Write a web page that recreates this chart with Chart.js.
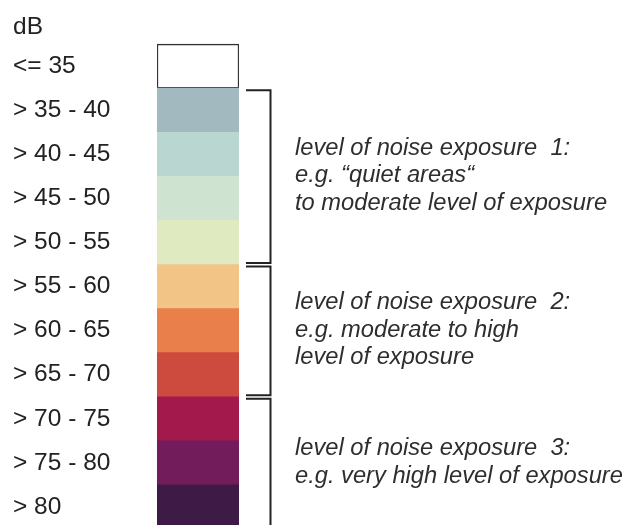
<!DOCTYPE html>
<html>
<head>
<meta charset="utf-8">
<script src="https://cdn.jsdelivr.net/npm/chart.js@4"></script>
<style>
  html, body { margin: 0; padding: 0; background: #fff; overflow: hidden; }
</style>
</head>
<body>
<canvas id="myChart" width="626" height="529"></canvas>
<script>
// legend rows (dB classes)
const categories = ["dB", "<= 35", "> 35 - 40", "> 40 - 45", "> 45 - 50", "> 50 - 55",
                    "> 55 - 60", "> 60 - 65", "> 65 - 70", "> 70 - 75", "> 75 - 80", "> 80"];
const fill = [null, 1, 1, 1, 1, 1, 1, 1, 1, 1, 1, 1];
const colors = ["#ffffff", "#ffffff", "#a1b9bf", "#b9d6d0", "#cfe4d0", "#e0eac1",
                "#f2c586", "#e97f4b", "#cd4a3f", "#a3194b", "#721c5c", "#3e1a47"];

// brackets: first and last row of each group + its text
const groupFrom = [2, 6, 9];
const groupTo = [5, 8, 11];
const groupText = [
    ["level of noise exposure  1:", "e.g. \u201cquiet areas\u201c", "to moderate level of exposure"],
    ["level of noise exposure  2:", "e.g. moderate to high", "level of exposure"],
    ["level of noise exposure  3:", "e.g. very high level of exposure"]
];

const labelFont = "'Liberation Sans', Arial, sans-serif";

const bracketPlugin = {
    id: "brackets",
    afterDraw(chart) {
        const c = chart.ctx;
        const y = chart.scales.y;
        const right = chart.chartArea.right;
        const half = (y.getPixelForValue(1) - y.getPixelForValue(0)) / 2;
        c.save();

        // unit header sits a bit lower than its row centre
        c.fillStyle = "#222";
        c.font = "24.5px " + labelFont;
        c.textBaseline = "middle";
        c.textAlign = "left";
        c.fillText(categories[0], chart.chartArea.left - 144, y.getPixelForValue(0) + 5);

        for (let i = 0; i < groupFrom.length; i++) {
            const top = y.getPixelForValue(groupFrom[i]) - half;
            const bottom = y.getPixelForValue(groupTo[i]) + half;
            c.strokeStyle = "#222";
            c.lineWidth = 2;
            c.beginPath();
            c.moveTo(right + 7, top + 2);
            c.lineTo(right + 31.5, top + 2);
            c.lineTo(right + 31.5, bottom - 1.5);
            c.lineTo(right + 7, bottom - 1.5);
            c.stroke();

            // text block centred on the group
            const lines = groupText[i];
            const mid = (top + bottom) / 2;
            c.fillStyle = "#2e2e2e";
            c.font = "italic 23.7px " + labelFont;
            c.textBaseline = "alphabetic";
            lines.forEach(function(t, k) {
                c.fillText(t, right + 56, mid + 6 + (k - (lines.length - 1) / 2) * 27.5);
            });
        }
        c.restore();
    }
};

const data = {
    labels: categories,
    datasets: [{
        data: fill,
        backgroundColor: colors,
        borderColor: "#333",
        borderWidth: [0, 1.5, 0, 0, 0, 0, 0, 0, 0, 0, 0, 0],
        borderSkipped: false,
        barPercentage: 1,
        categoryPercentage: 1
    }]
};

const config = {
    type: "bar",
    data: data,
    options: {
        indexAxis: "y",
        responsive: false,
        animation: false,
        layout: { padding: { left: 13, right: 387, top: 0, bottom: 0 } },
        plugins: { legend: { display: false }, tooltip: { enabled: false } },
        scales: {
            x: { display: false, min: 0, max: 1 },
            y: {
                grid: { display: false },
                border: { display: false },
                ticks: {
                    crossAlign: "far",
                    padding: 0,
                    color: "#222",
                    font: { family: labelFont, size: 24.5 },
                    callback: function(value, index) {
                        return index === 0 ? "" : categories[index];
                    }
                },
                afterFit: function(scale) {
                    scale.width = 144;
                    scale.paddingTop = 0;
                    scale.paddingBottom = 0;
                }
            }
        }
    },
    plugins: [bracketPlugin]
};

new Chart(document.getElementById("myChart"), config);
</script>
</body>
</html>
